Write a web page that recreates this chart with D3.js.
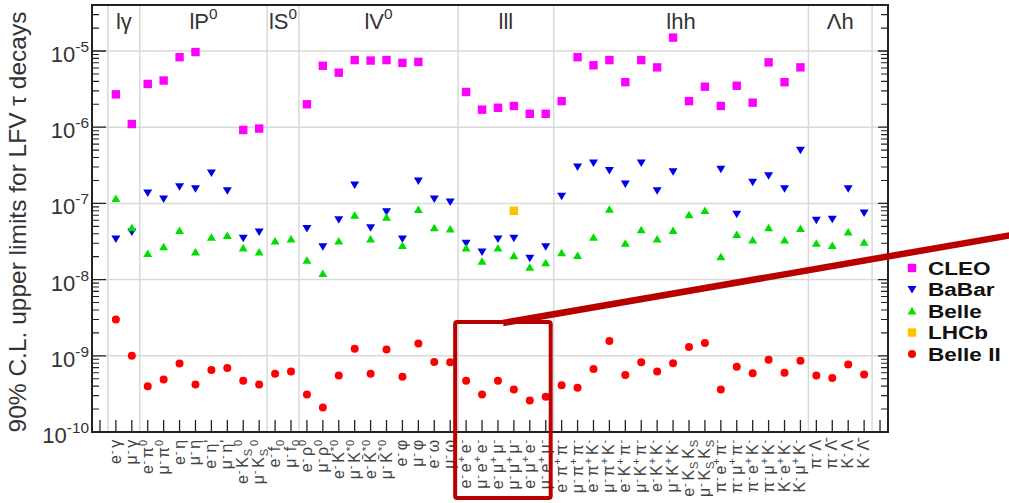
<!DOCTYPE html>
<html>
<head>
<meta charset="utf-8">
<script src="https://cdn.jsdelivr.net/npm/d3@7"></script>
<style>
body { margin: 0; background: #fff; }
svg { display: block; font-family: "Liberation Sans", Arial, sans-serif; }
</style>
</head>
<body>
<div class="chart"></div>
<script>
// decay channels, in plot order (^{..} superscript, _{..} subscript)
const categories = [
	"e^{-}γ", "μ^{-}γ",
	"e^{-}π^{0}", "μ^{-}π^{0}", "e^{-}η", "μ^{-}η", "e^{-}η'", "μ^{-}η'", "e^{-}K_{S}^{0}", "μ^{-}K_{S}^{0}",
	"e^{-}f_{0}", "μ^{-}f_{0}",
	"e^{-}ρ^{0}", "μ^{-}ρ^{0}", "e^{-}K^{*0}", "μ^{-}K^{*0}", "e^{-}K̄^{*0}", "μ^{-}K̄^{*0}", "e^{-}φ", "μ^{-}φ", "e^{-}ω", "μ^{-}ω",
	"e^{-}e^{+}e^{-}", "μ^{-}e^{+}e^{-}", "e^{-}μ^{+}μ^{-}", "μ^{-}μ^{+}μ^{-}", "e^{-}μ^{+}e^{-}", "μ^{-}e^{+}μ^{-}",
	"e^{-}π^{+}π^{-}", "μ^{-}π^{+}π^{-}", "e^{-}π^{+}K^{-}", "μ^{-}π^{+}K^{-}", "e^{-}K^{+}π^{-}", "μ^{-}K^{+}π^{-}",
	"e^{-}K^{+}K^{-}", "μ^{-}K^{+}K^{-}", "e^{-}K_{S}K_{S}", "μ^{-}K_{S}K_{S}", "π^{-}e^{+}π^{-}", "π^{-}μ^{+}π^{-}",
	"π^{-}e^{+}K^{-}", "π^{-}μ^{+}K^{-}", "K^{-}e^{+}K^{-}", "K^{-}μ^{+}K^{-}",
	"π^{-}Λ", "π^{-}Λ̄", "K^{-}Λ", "K^{-}Λ̄"
];
const groupNames = ["lγ", "lP^{0}", "lS^{0}", "lV^{0}", "lll", "lhh", "Λh"];
const groupSizes = [2, 8, 2, 10, 6, 16, 4];

const cleo = [
	2.7e-6, 1.1e-6,
	3.7e-6, 4.1e-6, 8.3e-6, 9.7e-6, null, null, 9.2e-7, 9.6e-7,
	null, null,
	2.0e-6, 6.4e-6, 5.2e-6, 7.6e-6, 7.5e-6, 7.6e-6, 7.0e-6, 7.2e-6, null, null,
	2.9e-6, 1.7e-6, 1.8e-6, 1.9e-6, 1.5e-6, 1.5e-6,
	2.2e-6, 8.3e-6, 6.5e-6, 7.6e-6, 3.9e-6, 7.6e-6, 6.1e-6, 1.5e-5, 2.2e-6, 3.4e-6, 1.9e-6, 3.5e-6, 2.1e-6, 7.1e-6, 3.9e-6, 6.1e-6,
	null, null, null, null
];
const babar = [
	3.4e-8, 4.2e-8,
	1.37e-7, 1.14e-7, 1.66e-7, 1.56e-7, 2.5e-7, 1.47e-7, 3.5e-8, 4.2e-8,
	null, null,
	4.7e-8, 2.7e-8, 6.1e-8, 1.74e-7, 4.8e-8, 7.8e-8, 3.4e-8, 1.97e-7, 1.14e-7, 1.04e-7,
	3.0e-8, 2.3e-8, 3.4e-8, 3.5e-8, 1.9e-8, 2.7e-8,
	1.24e-7, 3.0e-7, 3.4e-7, 2.7e-7, 1.8e-7, 3.4e-7, 1.47e-7, 2.6e-7, null, null, 2.8e-7, 7.2e-8, 1.9e-7, 2.3e-7, 1.56e-7, 5.0e-7,
	6.0e-8, 6.2e-8, 1.56e-7, 7.5e-8
];
const belle = [
	1.16e-7, 4.8e-8,
	2.2e-8, 2.7e-8, 4.4e-8, 2.3e-8, 3.6e-8, 3.8e-8, 2.6e-8, 2.3e-8,
	3.2e-8, 3.4e-8,
	1.8e-8, 1.2e-8, 3.2e-8, 7.0e-8, 3.4e-8, 6.6e-8, 2.8e-8, 8.3e-8, 4.8e-8, 4.6e-8,
	2.6e-8, 1.74e-8, 2.6e-8, 2.05e-8, 1.45e-8, 1.67e-8,
	2.25e-8, 2.07e-8, 3.6e-8, 8.4e-8, 3.0e-8, 4.5e-8, 3.4e-8, 4.4e-8, 7.1e-8, 8.1e-8, 2.0e-8, 3.9e-8, 3.3e-8, 4.8e-8, 3.3e-8, 4.7e-8,
	3.0e-8, 2.8e-8, 4.2e-8, 3.1e-8
];
const lhcb = [
	null, null,
	null, null, null, null, null, null, null, null,
	null, null,
	null, null, null, null, null, null, null, null, null, null,
	null, null, null, 8.0e-8, null, null,
	null, null, null, null, null, null, null, null, null, null, null, null, null, null, null, null,
	null, null, null, null
];
const belle2 = [
	3.0e-9, 1.0e-9,
	4.0e-10, 4.9e-10, 7.9e-10, 4.2e-10, 6.5e-10, 6.9e-10, 4.7e-10, 4.2e-10,
	5.8e-10, 6.2e-10,
	3.1e-10, 2.1e-10, 5.5e-10, 1.24e-9, 5.8e-10, 1.21e-9, 5.3e-10, 1.45e-9, 8.3e-10, 8.2e-10,
	4.7e-10, 3.1e-10, 4.7e-10, 3.6e-10, 2.6e-10, 2.9e-10,
	4.1e-10, 3.8e-10, 6.7e-10, 1.57e-9, 5.6e-10, 8.2e-10, 6.2e-10, 8.0e-10, 1.3e-9, 1.47e-9, 3.6e-10, 7.2e-10, 5.9e-10, 8.9e-10, 6.0e-10, 8.6e-10,
	5.5e-10, 5.1e-10, 7.7e-10, 5.7e-10
];
const yTickValues = [1e-10, 1e-9, 1e-8, 1e-7, 1e-6, 1e-5];
const yTickLabels = ["10^{-10}", "10^{-9}", "10^{-8}", "10^{-7}", "10^{-6}", "10^{-5}"];

const series = [
	{name: "CLEO", values: cleo, color: "#ff00ff", shape: "square"},
	{name: "BaBar", values: babar, color: "#0000e6", shape: "down"},
	{name: "Belle", values: belle, color: "#00dd00", shape: "up"},
	{name: "LHCb", values: lhcb, color: "#ffc000", shape: "square"},
	{name: "Belle II", values: belle2, color: "#ff0000", shape: "circle"}
];

const width = 1009, height = 503;
const plotL = 92, plotR = 888, plotT = 5, plotB = 432;

const svg = d3.select(".chart").append("svg")
	.attr("width", width)
	.attr("height", height);

// one empty bin at each end, like the original histogram
const x = d3.scaleBand().domain(categories).range([plotL, plotR]).paddingInner(0).paddingOuter(1);
const nBins = categories.length + 2;
const xBin = d3.scaleLinear().domain([0, nBins]).range([plotL, plotR]);
const y = d3.scaleLog().domain([1e-10, Math.pow(10, -4.396)]).range([plotB, plotT]);

// write "a^{b}c_{d}" as tspans
function richText(sel, str, shift, gap) {
	const parts = str.split(/(\^\{[^}]*\}|_\{[^}]*\})/).filter(s => s !== "");
	let after = false;
	parts.forEach(p => {
		let t;
		if (p.startsWith("^{")) {
			t = sel.append("tspan").attr("font-size", "0.7em").attr("baseline-shift", shift + "px").text(p.slice(2, -1));
		} else if (p.startsWith("_{")) {
			t = sel.append("tspan").attr("font-size", "0.7em").attr("baseline-shift", (-shift * 0.6) + "px").text(p.slice(2, -1));
		} else {
			t = sel.append("tspan").text(p);
		}
		if (after && gap) t.attr("dx", gap);
		after = p.startsWith("^{") || p.startsWith("_{");
	});
}

// grid
const minor = [];
for (let d = -10; d <= -5; d++) {
	for (let m = 2; m <= 9; m++) {
		const v = m * Math.pow(10, d);
		if (v < y.domain()[1]) minor.push(v);
	}
}
svg.selectAll(".hgrid")
	.data(yTickValues.slice(1))
	.enter().append("line")
	.attr("x1", plotL).attr("x2", plotR)
	.attr("y1", d => y(d)).attr("y2", d => y(d))
	.attr("stroke", "#d9d9d9").attr("stroke-width", 1.5);

const edges = [1];
groupSizes.forEach(n => edges.push(edges[edges.length - 1] + n));
svg.selectAll(".vgrid")
	.data(edges)
	.enter().append("line")
	.attr("x1", d => xBin(d)).attr("x2", d => xBin(d))
	.attr("y1", plotT).attr("y2", plotB)
	.attr("stroke", "#d9d9d9").attr("stroke-width", 1.5);

// group titles
svg.selectAll(".group")
	.data(groupNames)
	.enter().append("text")
	.attr("x", (d, i) => (xBin(edges[i]) + xBin(edges[i + 1])) / 2)
	.attr("y", 29)
	.attr("text-anchor", "middle")
	.attr("font-size", "22px")
	.attr("fill", "#333")
	.each(function(d) { richText(d3.select(this), d, 10, 0); });

// axis ticks
svg.selectAll(".ymaj")
	.data(yTickValues)
	.enter().append("path")
	.attr("d", d => `M${plotL},${y(d)}h14M${plotR},${y(d)}h-10`)
	.attr("stroke", "#222").attr("stroke-width", 1.3);
svg.selectAll(".ymin")
	.data(minor)
	.enter().append("path")
	.attr("d", d => `M${plotL},${y(d)}h7M${plotR},${y(d)}h-7`)
	.attr("stroke", "#222").attr("stroke-width", 1.1);
svg.selectAll(".xtick")
	.data(d3.range(nBins))
	.enter().append("line")
	.attr("x1", d => xBin(d + 0.5)).attr("x2", d => xBin(d + 0.5))
	.attr("y1", plotB).attr("y2", plotB - 12)
	.attr("stroke", "#222").attr("stroke-width", 1.3);

// frame
svg.append("rect")
	.attr("x", plotL).attr("y", plotT)
	.attr("width", plotR - plotL).attr("height", plotB - plotT)
	.attr("fill", "none").attr("stroke", "#222").attr("stroke-width", 2);

// y tick labels
svg.selectAll(".ylab")
	.data(yTickValues)
	.enter().append("text")
	.attr("x", 89)
	.attr("y", d => y(d) + 11)
	.attr("text-anchor", "end")
	.attr("font-size", "22px")
	.attr("fill", "#333")
	.each(function(d, i) { richText(d3.select(this), yTickLabels[i], 10, 0); });

// x labels, vertical
svg.selectAll(".xlab")
	.data(categories)
	.enter().append("text")
	.attr("transform", d => `translate(${x(d) + x.bandwidth() / 2 + 5},439) rotate(-90)`)
	.attr("text-anchor", "end")
	.attr("font-size", "16px")
	.attr("letter-spacing", "0.8px")
	.attr("fill", "#444")
	.each(function(d) { richText(d3.select(this), d, 6, 2); });

// y title
svg.append("text")
	.attr("transform", "translate(26,222) rotate(-90)")
	.attr("text-anchor", "middle")
	.attr("font-size", "24.5px")
	.attr("fill", "#333")
	.text("90% C.L. upper limits for LFV τ decays");

// markers
function marker(sel, shape, color) {
	if (shape === "square") {
		sel.append("rect").attr("x", -4.2).attr("y", -4.2).attr("width", 8.4).attr("height", 8.4).attr("fill", color);
	} else if (shape === "circle") {
		sel.append("circle").attr("r", 4).attr("fill", color);
	} else if (shape === "down") {
		sel.append("path").attr("d", "M-4.5,-3.5L4.5,-3.5L0,4Z").attr("fill", color);
	} else {
		sel.append("path").attr("d", "M-4.5,3.5L4.5,3.5L0,-4Z").attr("fill", color);
	}
}

series.forEach(s => {
	const pts = categories.map((c, i) => ({c: c, v: s.values[i]})).filter(d => d.v != null);
	svg.append("g").selectAll("g")
		.data(pts)
		.enter().append("g")
		.attr("transform", d => `translate(${x(d.c) + x.bandwidth() / 2},${y(d.v)})`)
		.each(function() { marker(d3.select(this), s.shape, s.color); });
});

// legend
const legend = svg.append("g").selectAll("g")
	.data(series)
	.enter().append("g")
	.attr("transform", (d, i) => `translate(912,${268 + i * 21.5})`);
legend.each(function(d) { marker(d3.select(this), d.shape, d.color); });
legend.append("text")
	.attr("transform", "translate(16,0) scale(1.22,1)")
	.attr("dy", "0.36em")
	.attr("font-size", "18.5px")
	.attr("font-weight", "bold")
	.attr("fill", "#111")
	.text(d => d.name);

// highlight around the lll group
svg.append("line")
	.attr("x1", 503).attr("y1", 323)
	.attr("x2", 1012).attr("y2", 235)
	.attr("stroke", "#b80000").attr("stroke-width", 6.5);
svg.append("rect")
	.attr("x", xBin(edges[4]) - 3).attr("y", 322)
	.attr("width", xBin(edges[5]) - xBin(edges[4])).attr("height", 176)
	.attr("rx", 2)
	.attr("fill", "none").attr("stroke", "#b80000").attr("stroke-width", 4);
</script>
</body>
</html>
